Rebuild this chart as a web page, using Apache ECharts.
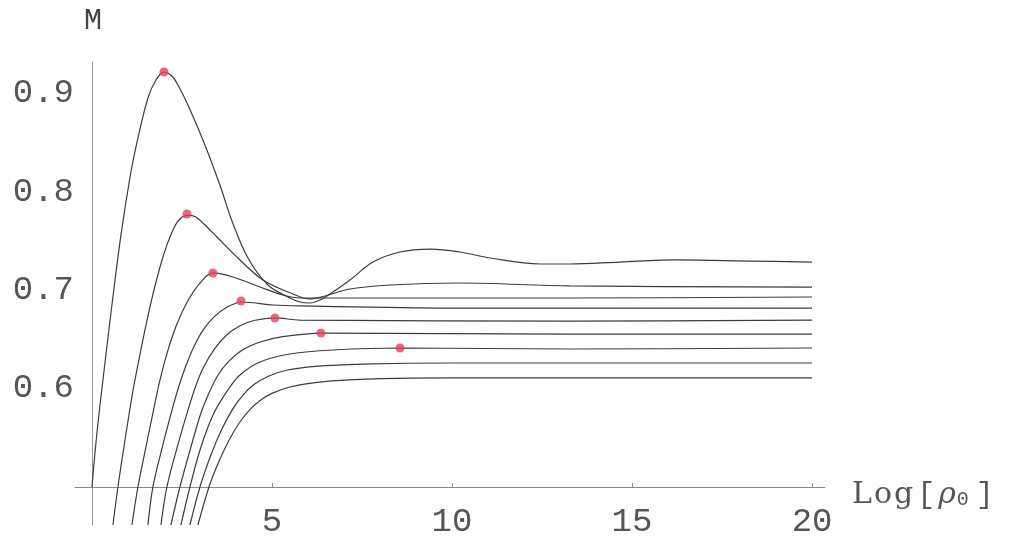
<!DOCTYPE html>
<html>
<head>
<meta charset="utf-8">
<script src="https://cdn.jsdelivr.net/npm/echarts@6/dist/echarts.min.js"></script>
<style>html,body{margin:0;padding:0;background:#fff;}#c{width:1010px;height:543px;}</style>
</head>
<body>
<div id="c"></div>
<script>
// ---- data ----
const xTicks = [5, 10, 15, 20];
const yTicks = [0.6, 0.7, 0.8, 0.9];

const curve1 = [[0,0.5],[0.139,0.5548],[0.306,0.6086],[0.556,0.6848],[0.806,0.7558],[1.083,0.8198],[1.278,0.8543],[1.556,0.8949],[1.778,0.9132],[2.0,0.9213],[2.222,0.9173],[2.389,0.9081],[2.667,0.8878],[3.139,0.8472],[3.583,0.8036],[3.889,0.7700],[4.333,0.7325],[4.889,0.7051],[5.444,0.6929],[5.778,0.6878],[6.056,0.6868],[6.333,0.6898],[6.694,0.698],[7.167,0.7102],[7.806,0.7284],[8.556,0.7386],[9.389,0.7416],[10.222,0.7386],[11.056,0.7325],[12.444,0.7264],[13.278,0.7264],[14.667,0.7284],[16.25,0.7305],[18.278,0.7294],[20,0.7284]];
const curve2 = [[0.583,0.4614],[0.722,0.5],[0.889,0.5406],[1.028,0.5731],[1.194,0.6086],[1.611,0.6827],[1.972,0.7335],[2.25,0.7609],[2.444,0.7721],[2.667,0.7761],[2.889,0.7741],[3.111,0.767],[3.472,0.7538],[4.111,0.7305],[4.75,0.7102],[5.583,0.6959],[6.056,0.6909],[6.472,0.6939],[7.167,0.701],[8.278,0.7051],[10.222,0.7071],[13.278,0.7041],[20,0.703]];
const curve3 = [[1.111,0.4614],[1.278,0.5],[1.5,0.5406],[1.694,0.5751],[1.889,0.6086],[2.1,0.6375],[2.35,0.6645],[2.65,0.688],[3.0,0.707],[3.361,0.7173],[3.917,0.7132],[4.667,0.703],[5.306,0.6949],[5.778,0.6919],[7.361,0.6919],[13.278,0.6919],[20,0.6929]];
const curve4 = [[1.556,0.4614],[1.694,0.5],[1.972,0.543],[2.194,0.574],[2.4,0.6005],[2.6,0.622],[2.85,0.644],[3.1,0.66],[3.4,0.673],[3.75,0.6825],[4.167,0.6878],[5.028,0.6848],[5.778,0.6838],[9.944,0.6817],[20,0.6817]];
const curve5 = [[1.917,0.4614],[2.083,0.5],[2.389,0.543],[2.667,0.578],[2.889,0.603],[3.1,0.6215],[3.4,0.64],[3.75,0.6545],[4.1,0.6635],[4.5,0.669],[5.083,0.6716],[5.778,0.6695],[13.278,0.6685],[20,0.6695]];
const curve6 = [[2.194,0.4614],[2.444,0.5],[2.75,0.5406],[3.028,0.5751],[3.25,0.5955],[3.5,0.6135],[3.8,0.6275],[4.2,0.6395],[4.7,0.6475],[5.3,0.6527],[6.389,0.6563],[13.278,0.6553],[20,0.6553]];
const curve7 = [[2.472,0.4614],[2.722,0.5],[3.028,0.5406],[3.389,0.5751],[3.778,0.5985],[4.111,0.6137],[4.667,0.6269],[5.5,0.635],[6.694,0.6391],[8.611,0.6411],[13.278,0.6401],[20,0.6411]];
const curve8 = [[2.722,0.4614],[3.0,0.5],[3.3,0.532],[3.6,0.558],[3.9,0.5785],[4.2,0.5935],[4.5,0.604],[4.9,0.6125],[5.4,0.6185],[6.2,0.6225],[7.5,0.6248],[10,0.6259],[20,0.6259]];
const curve9 = [[2.944,0.4614],[3.25,0.5],[3.5,0.5235],[3.8,0.547],[4.1,0.5655],[4.4,0.579],[4.7,0.5885],[5.0,0.595],[5.5,0.6015],[6.2,0.606],[7.0,0.6085],[8.5,0.6102],[10,0.6107],[20,0.6107]];
const peaks = [[2.0,0.9213],[2.639,0.7772],[3.361,0.7173],[4.139,0.6888],[5.083,0.6716],[6.361,0.6563],[8.556,0.6411]];

const curves = [curve1, curve2, curve3, curve4, curve5, curve6, curve7, curve8, curve9];

const chart = echarts.init(document.getElementById('c'), null, {renderer: 'canvas'});
const lineSeries = curves.map(d => ({
  type: 'line', data: d, showSymbol: false, smooth: 0.35,
  clip: true, silent: true,
  lineStyle: {color: '#3c3c3c', width: 1.2}
}));

chart.setOption({
  backgroundColor: '#ffffff',
  animation: false,
  grid: {left: 75, top: 62, width: 750, height: 463, containLabel: false, outerBoundsMode: 'none'},
  xAxis: {
    type: 'value', min: -0.47, max: 20.36, position: 'bottom', offset: -38,
    axisLine: {show: true, onZero: false, lineStyle: {color: '#8a8a8a', width: 1}},
    axisTick: {show: true, inside: true, length: 4, customValues: xTicks, lineStyle: {color: '#8a8a8a'}},
    axisLabel: {customValues: xTicks, margin: 35, verticalAlign: 'middle', color: '#555',
      fontFamily: 'Liberation Mono', fontSize: 34},
    splitLine: {show: false}
  },
  yAxis: {
    type: 'value', min: 0.4614, max: 0.9315,
    axisLine: {show: true, onZero: true, lineStyle: {color: '#9a9a9a', width: 1}},
    axisTick: {show: false, customValues: yTicks},
    axisLabel: {customValues: yTicks, margin: 1, color: '#555', fontFamily: 'Liberation Mono', fontSize: 34,
      formatter: v => v.toFixed(1)},
    splitLine: {show: false}
  },
  series: lineSeries.concat([{
    type: 'scatter', data: peaks, symbol: 'circle', symbolSize: 9, z: 5,
    itemStyle: {color: '#e3415f'}
  }]),
  graphic: [
    {type: 'text', x: 93, y: 21, style: {text: 'M', fontFamily: 'Liberation Mono', fontSize: 30, fill: '#444', align: 'center', verticalAlign: 'middle'}},
    {type: 'text', x: 851, y: 495, style: {
      text: '{l|L}{l|o}{l|g}{b|[}{r|ρ}{s|0}{b|]}',
      verticalAlign: 'middle', align: 'left', fill: '#555',
      rich: {
        l: {fontFamily: 'DejaVu Serif', fontSize: 30, padding: [0, 1, 0, 1], lineHeight: 36, fill: '#555'},
        b: {fontFamily: 'Liberation Mono', fontSize: 30, padding: [0, 3, 0, 3], lineHeight: 36, fill: '#555'},
        r: {fontFamily: 'DejaVu Serif', fontStyle: 'italic', fontSize: 30, lineHeight: 36, fill: '#555'},
        s: {fontFamily: 'Liberation Mono', fontSize: 20, padding: [10, 4, 0, 1], lineHeight: 36, fill: '#555'}
      }
    }}
  ]
});
</script>
</body>
</html>
